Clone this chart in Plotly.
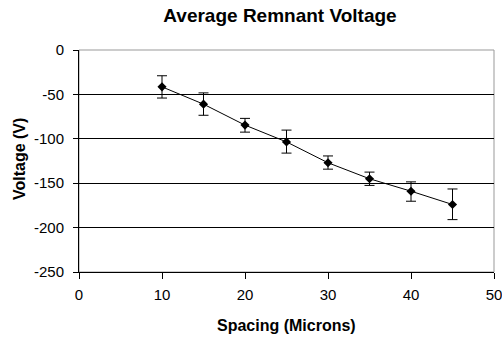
import plotly.graph_objects as go

spacing = [10, 15, 20, 25, 30, 35, 40, 45]
voltage = [-41.5, -61, -84.6, -103.5, -127, -145, -159, -174]
err_plus = [12.5, 12.7, 7.6, 13.3, 7.7, 7.5, 10.5, 17.5]
err_minus = [12.6, 12.5, 7.9, 12.6, 7.2, 7.5, 11.3, 17.0]

x_ticks = [0, 10, 20, 30, 40, 50]
x_labels = ["0", "10", "20", "30", "40", "50"]
y_ticks = [0, -50, -100, -150, -200, -250]
y_labels = ["0", "-50", "-100", "-150", "-200", "-250"]

font = "Liberation Sans, Arial, sans-serif"

fig = go.Figure()
fig.add_trace(go.Scatter(
    x=spacing, y=voltage, mode="lines+markers",
    line=dict(color="black", width=1),
    marker=dict(symbol="diamond", size=7, color="black"),
    error_y=dict(type="data", symmetric=False, array=err_plus, arrayminus=err_minus,
                 color="black", thickness=1, width=5),
    showlegend=False,
))

fig.add_shape(type="rect", xref="paper", yref="paper", x0=0, x1=1, y0=0, y1=1,
              line=dict(color="#999999", width=1), layer="below")

fig.add_annotation(text="<b>Spacing (Microns)</b>", xref="paper", yref="paper",
                   x=0.5, y=-53 / 222, xanchor="center", yanchor="middle",
                   showarrow=False, font=dict(size=16))
fig.add_annotation(text="<b>Voltage (V)</b>", xref="paper", yref="paper",
                   x=-60 / 415, y=(272 - 159) / 222, xanchor="center", yanchor="middle",
                   textangle=-90, showarrow=False, font=dict(size=16))

fig.update_layout(
    width=502, height=337,
    margin=dict(l=79, r=8, t=50, b=65),
    paper_bgcolor="white", plot_bgcolor="white",
    font=dict(family=font, size=15, color="black"),
    title=dict(text="<b>Average Remnant Voltage</b>", x=280 / 502, xanchor="center",
               y=1 - 15 / 337, yanchor="middle", font=dict(size=19)),
    xaxis=dict(range=[0, 50], tickvals=x_ticks, ticktext=x_labels, showgrid=False, zeroline=False,
               showline=True, linecolor="black", linewidth=1, automargin=False,
               ticks="outside", ticklen=6, tickcolor="black", ticklabeloverflow="allow",
               ticklabelstandoff=3),
    yaxis=dict(range=[-250, 0], tickvals=y_ticks, ticktext=y_labels, showgrid=True,
               gridcolor="black", gridwidth=1, automargin=False,
               zeroline=False, showline=True, linecolor="black", linewidth=1,
               ticks="outside", ticklen=5, tickcolor="black", ticklabeloverflow="allow",
               ticklabelstandoff=6),
)

fig.write_html("out.html")
